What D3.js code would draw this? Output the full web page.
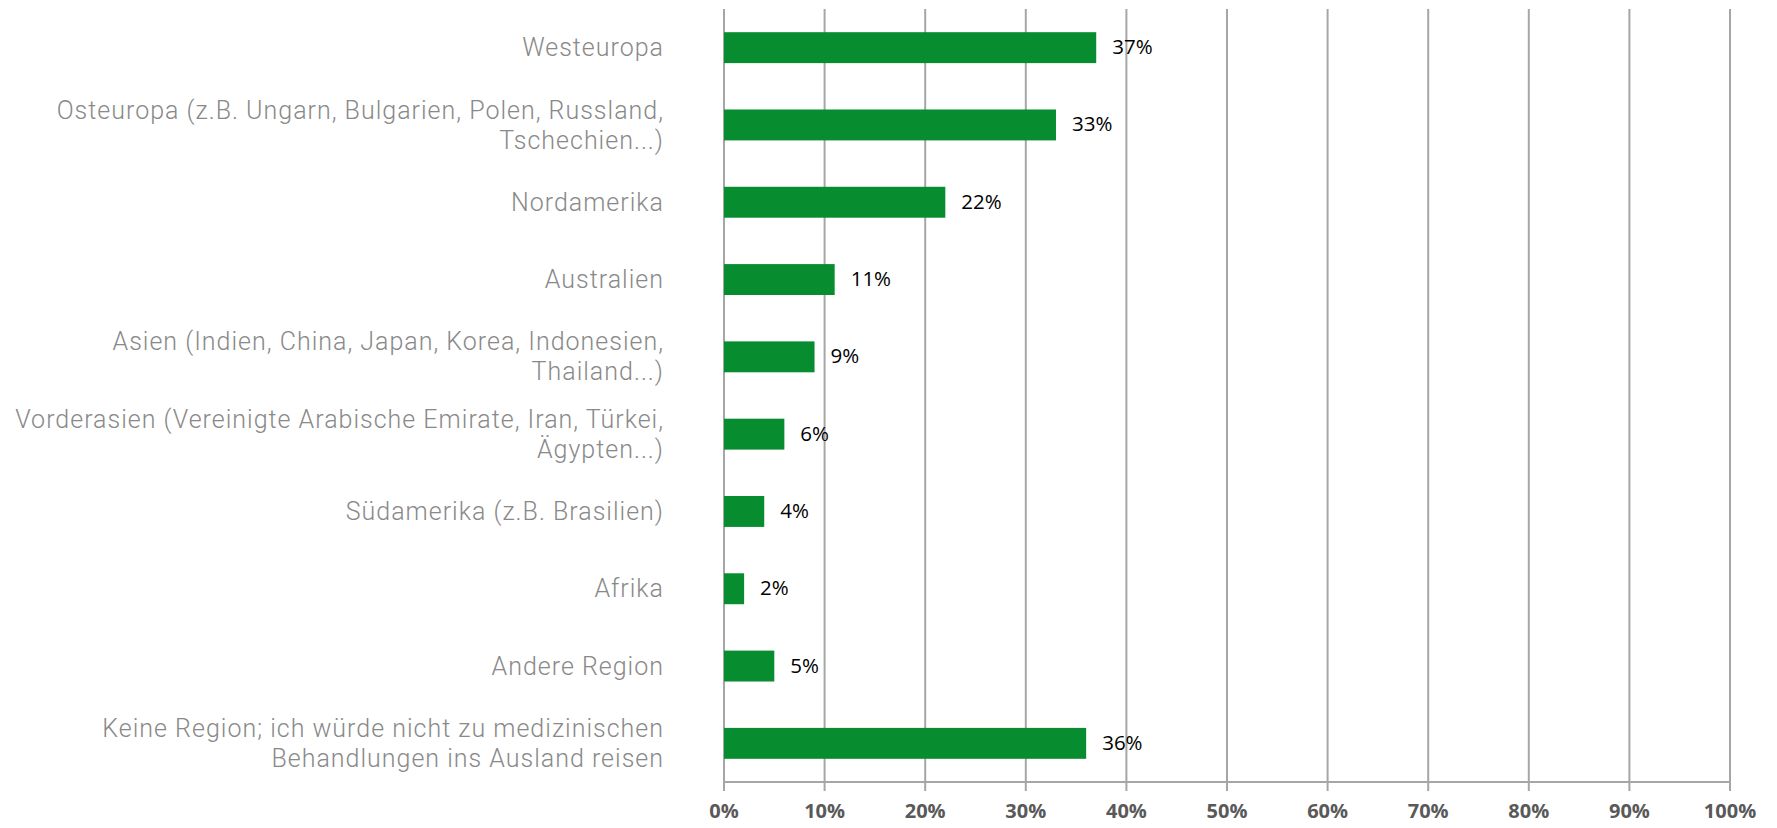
<!DOCTYPE html>
<meta charset="utf-8">
<script src="https://d3js.org/d3.v7.min.js"></script>
<style>
  body { margin: 0; background: #fff; }
</style>
<div id="chart"></div>
<script>

// data
var regions = [
  ["Westeuropa"],
  ["Osteuropa (z.B. Ungarn, Bulgarien, Polen, Russland,", "Tschechien...)"],
  ["Nordamerika"],
  ["Australien"],
  ["Asien (Indien, China, Japan, Korea, Indonesien,", "Thailand...)"],
  ["Vorderasien (Vereinigte Arabische Emirate, Iran, Türkei,", "Ägypten...)"],
  ["Südamerika (z.B. Brasilien)"],
  ["Afrika"],
  ["Andere Region"],
  ["Keine Region; ich würde nicht zu medizinischen", "Behandlungen ins Ausland reisen"]
];
var shares = [37, 33, 22, 11, 9, 6, 4, 2, 5, 36];
var ticks = [0, 10, 20, 30, 40, 50, 60, 70, 80, 90, 100];

var W = 1777, H = 828;
var margin = {top: 9, right: 47, bottom: 46, left: 724};

var svg = d3.select("#chart").append("svg")
    .attr("width", W)
    .attr("height", H);

var x = d3.scaleLinear()
    .domain([0, 100])
    .range([margin.left, W - margin.right]);

var y = d3.scaleBand()
    .domain(d3.range(regions.length))
    .range([margin.top, H - margin.bottom])
    .paddingInner(0.6)
    .paddingOuter(0.3);

var axisY = H - margin.bottom;

// gridlines (extend below axis as tick marks)
svg.append("g").selectAll("line")
  .data(ticks)
  .enter().append("line")
    .attr("x1", function(d) { return x(d); })
    .attr("x2", function(d) { return x(d); })
    .attr("y1", margin.top)
    .attr("y2", axisY + 9)
    .style("stroke", "#a6a6a6")
    .style("stroke-width", 2);

// bottom axis line
svg.append("line")
    .attr("x1", x(0)).attr("x2", x(100))
    .attr("y1", axisY).attr("y2", axisY)
    .style("stroke", "#a6a6a6")
    .style("stroke-width", 2);

// tick labels
svg.append("g").selectAll("text")
  .data(ticks)
  .enter().append("text")
    .attr("x", function(d) { return x(d); })
    .attr("y", axisY + 31)
    .attr("text-anchor", "middle")
    .attr("dominant-baseline", "middle")
    .style("font-family", "Open Sans")
    .style("font-weight", "bold")
    .style("font-size", "20px")
    .style("fill", "#595959")
    .text(function(d) { return d + "%"; });

// bars
svg.append("g").selectAll("rect")
  .data(shares)
  .enter().append("rect")
    .attr("x", x(0))
    .attr("y", function(d, i) { return y(i); })
    .attr("width", function(d) { return x(d) - x(0); })
    .attr("height", y.bandwidth())
    .style("fill", "#088c30");

// value labels
svg.append("g").selectAll("text")
  .data(shares)
  .enter().append("text")
    .attr("x", function(d) { return x(d) + 16; })
    .attr("y", function(d, i) { return y(i) + y.bandwidth() / 2 + 1; })
    .attr("dominant-baseline", "middle")
    .style("font-family", "Open Sans")
    .style("font-size", "20.5px")
    .style("fill", "#000")
    .text(function(d) { return d + "%"; });

// category labels
var lab = svg.append("g").selectAll("text")
  .data(regions)
  .enter().append("text")
    .attr("text-anchor", "end")
    .style("font-family", "Roboto")
    .style("font-weight", 300)
    .style("font-size", "25px")
    .style("letter-spacing", "1px")
    .style("fill", "#898989");

lab.each(function(lines, i) {
  var cy = y(i) + y.bandwidth() / 2 + 2;
  var t = d3.select(this);
  lines.forEach(function(s, k) {
    t.append("tspan")
      .attr("x", 664)
      .attr("y", cy + (k - (lines.length - 1) / 2) * 30)
      .attr("dominant-baseline", "middle")
      .text(s);
  });
});

</script>
